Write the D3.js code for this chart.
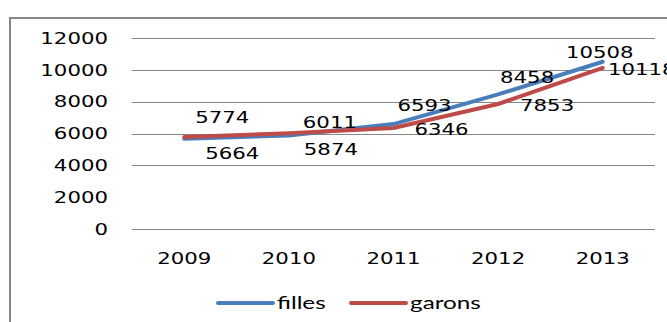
<!DOCTYPE html>
<html>
<head>
<meta charset="utf-8">
<script src="https://cdn.jsdelivr.net/npm/d3@7"></script>
<style>
  body { margin: 0; background: #fff; }
  svg { display: block; }
</style>
</head>
<body>
<svg id="chart" width="667" height="322"></svg>
<script>
// data
var years = ["2009", "2010", "2011", "2012", "2013"];
var filles = [5664, 5874, 6593, 8458, 10508];
var garons = [5774, 6011, 6346, 7853, 10118];
var yTicks = [0, 2000, 4000, 6000, 8000, 10000, 12000];
var seriesNames = ["filles", "garons"];

// where each value label sits, relative to its point (dx, dy of label centre)
var fillesLabelOffset = [[48, 14], [42, 14], [31, -19], [29, -17], [-3, -10]];
var garonsLabelOffset = [[38, -20], [41, -11], [48, 1], [49, 1], [39, 1]];

var colors = { filles: "#4A7EBB", garons: "#BE4B48" };
var grey = "#868686";
var numFont = "DejaVu Sans";
var stretch = 1.33;   // the picture's text is drawn wider than normal

var svg = d3.select("#chart");

// chart frame (runs off the right and bottom edges)
svg.append("rect")
    .attr("x", 10)
    .attr("y", 18)
    .attr("width", 700)
    .attr("height", 400)
    .attr("fill", "none")
    .attr("stroke", grey)
    .attr("stroke-width", 2);

var x = d3.scaleBand()
    .domain(years)
    .range([132, 655]);

var y = d3.scaleLinear()
    .domain([0, 12000])
    .range([229, 38]);

function px(d, i) { return x(years[i]) + x.bandwidth() / 2; }

// text helper: widened text centred on (cx, cy)
function wideText(parent, cx, cy, str, anchor, font, size, sx) {
    parent.append("g")
        .attr("transform", "translate(" + cx + "," + cy + ") scale(" + sx + ",1)")
        .append("text")
        .attr("text-anchor", anchor)
        .attr("dy", "0.36em")
        .attr("font-family", font)
        .attr("font-size", size)
        .attr("fill", "#000")
        .text(str);
}

// gridlines (the 2000 line does not show in the picture)
svg.append("g")
    .selectAll("line")
    .data(yTicks.filter(function (t) { return t != 2000; }))
    .enter()
    .append("line")
    .attr("x1", x.range()[0])
    .attr("x2", x.range()[1])
    .attr("y1", function (d) { return Math.round(y(d)) + 0.5; })
    .attr("y2", function (d) { return Math.round(y(d)) + 0.5; })
    .attr("stroke", grey)
    .attr("stroke-width", 1);

// y tick labels
var yl = svg.append("g");
yTicks.forEach(function (t) {
    wideText(yl, 108, y(t), String(t), "end", numFont, 16, stretch);
});

// x tick labels
var xl = svg.append("g");
years.forEach(function (yr, i) {
    wideText(xl, px(null, i), 258, yr, "middle", numFont, 16, stretch);
});

// lines
var line = d3.line()
    .x(px)
    .y(function (d) { return y(d); });

[["filles", filles], ["garons", garons]].forEach(function (s) {
    svg.append("path")
        .datum(s[1])
        .attr("d", line)
        .attr("fill", "none")
        .attr("stroke", colors[s[0]])
        .attr("stroke-width", 4)
        .attr("stroke-linejoin", "round")
        .attr("stroke-linecap", "round");
});

// value labels
var vl = svg.append("g");
filles.forEach(function (v, i) {
    wideText(vl, px(v, i) + fillesLabelOffset[i][0], y(v) + fillesLabelOffset[i][1],
        String(v), "middle", numFont, 16, stretch);
});
garons.forEach(function (v, i) {
    wideText(vl, px(v, i) + garonsLabelOffset[i][0], y(v) + garonsLabelOffset[i][1],
        String(v), "middle", numFont, 16, stretch);
});

// legend
var legendX = [218, 351];
var leg = svg.append("g");
seriesNames.forEach(function (name, i) {
    leg.append("line")
        .attr("x1", legendX[i])
        .attr("x2", legendX[i] + 55)
        .attr("y1", 303)
        .attr("y2", 303)
        .attr("stroke", colors[name])
        .attr("stroke-width", 4)
        .attr("stroke-linecap", "round");
    leg.append("g")
        .attr("transform", "translate(" + (legendX[i] + 59) + ",303) scale(1.35,1)")
        .append("text")
        .attr("dy", "0.32em")
        .attr("font-family", "Lato")
        .attr("font-size", 18)
        .attr("fill", "#000")
        .text(name);
});
</script>
</body>
</html>
